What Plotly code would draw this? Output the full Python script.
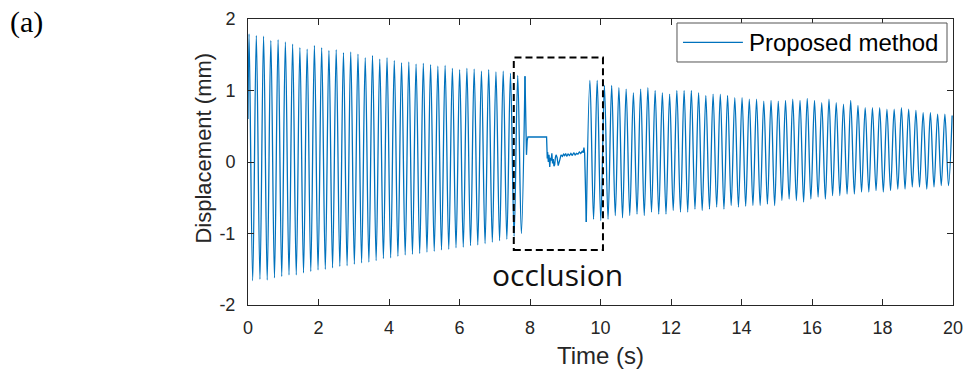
import plotly.graph_objects as go

# ---------------- data ----------------
# before occlusion: peaks and troughs of the oscillation
pre_peak_t = [0.03, 0.236, 0.442, 0.648, 0.854, 1.06, 1.266, 1.472, 1.678, 1.884,
              2.09, 2.296, 2.502, 2.708, 2.914, 3.12, 3.326, 3.532, 3.738, 3.944,
              4.15, 4.356, 4.562, 4.768, 4.974, 5.18, 5.386, 5.592, 5.798, 6.004,
              6.21, 6.416, 6.622, 6.828, 7.034, 7.24, 7.446, 7.652, 7.858]
pre_peak_v = [1.79, 1.77, 1.76, 1.70, 1.71, 1.68, 1.65, 1.60, 1.58, 1.63,
              1.60, 1.56, 1.57, 1.53, 1.54, 1.51, 1.46, 1.49, 1.44, 1.46,
              1.42, 1.39, 1.40, 1.37, 1.38, 1.36, 1.34, 1.35, 1.31, 1.29,
              1.31, 1.30, 1.27, 1.29, 1.26, 1.27, 1.24, 1.21, 1.20]
pre_trough_t = [0.133, 0.339, 0.545, 0.751, 0.957, 1.163, 1.369, 1.575, 1.781, 1.987,
                2.193, 2.399, 2.605, 2.811, 3.017, 3.223, 3.429, 3.635, 3.841, 4.047,
                4.253, 4.459, 4.665, 4.871, 5.077, 5.283, 5.489, 5.695, 5.901, 6.107,
                6.313, 6.519, 6.725, 6.931, 7.137, 7.343, 7.549, 7.755]
pre_trough_v = [-1.66, -1.64, -1.65, -1.62, -1.60, -1.58, -1.58, -1.55, -1.53, -1.51,
                -1.50, -1.48, -1.46, -1.45, -1.43, -1.41, -1.40, -1.38, -1.35, -1.34,
                -1.32, -1.30, -1.29, -1.28, -1.26, -1.25, -1.23, -1.22, -1.20, -1.19,
                -1.17, -1.16, -1.14, -1.12, -1.10, -1.08, -1.04, -1.00]
start_t = [0.0]
start_v = [0.6]

# during occlusion
occ_t = [7.858, 7.90, 7.92, 7.94, 8.47, 8.49, 8.50, 8.52, 8.54, 8.56, 8.58, 8.60,
         8.62, 8.64, 8.66, 8.68, 8.70, 8.72, 8.74, 8.77, 8.80, 8.84, 8.88, 8.92,
         8.95, 8.98, 9.01, 9.04, 9.08, 9.12, 9.16, 9.20, 9.24, 9.28, 9.32, 9.36,
         9.40, 9.44, 9.48, 9.51, 9.53, 9.55, 9.597]
occ_v = [1.20, 0.10, 0.30, 0.35, 0.35, 0.05, 0.14, 0.00, 0.10, -0.07, 0.06, 0.02,
         0.12, -0.02, 0.04, -0.06, -0.04, 0.06, 0.10, 0.06, -0.05, 0.02, 0.10, 0.08,
         0.11, 0.09, 0.12, 0.08, 0.11, 0.09, 0.12, 0.09, 0.13, 0.10, 0.12, 0.11,
         0.14, 0.12, 0.15, 0.13, 0.20, 0.12, -0.84]

# after occlusion
post_peak_t = [9.700, 9.906, 10.111, 10.317, 10.522, 10.728, 10.933, 11.139, 11.344, 11.550,
               11.755, 11.961, 12.166, 12.372, 12.577, 12.783, 12.988, 13.194, 13.399, 13.605,
               13.810, 14.016, 14.221, 14.427, 14.632, 14.838, 15.043, 15.249, 15.454, 15.660,
               15.865, 16.071, 16.276, 16.482, 16.687, 16.893, 17.098, 17.304, 17.509, 17.715,
               17.920, 18.126, 18.331, 18.537, 18.742, 18.948, 19.153, 19.359, 19.564, 19.770,
               19.975]
post_peak_v = [1.14, 1.14, 1.07, 1.07, 1.04, 1.02, 0.97, 1.02, 1.04, 1.00,
               0.97, 0.95, 1.00, 1.00, 1.00, 0.97, 0.93, 0.95, 0.95, 0.93,
               0.90, 0.90, 0.88, 0.88, 0.85, 0.86, 0.85, 0.86, 0.88, 0.86,
               0.89, 0.86, 0.83, 0.88, 0.83, 0.81, 0.86, 0.79, 0.76, 0.76,
               0.76, 0.74, 0.74, 0.76, 0.74, 0.72, 0.69, 0.69, 0.67, 0.67,
               0.65]
post_trough_t = [9.803, 10.008, 10.214, 10.419, 10.625, 10.830, 11.036, 11.241, 11.447,
                 11.652, 11.858, 12.063, 12.269, 12.474, 12.680, 12.885, 13.091, 13.296, 13.502,
                 13.707, 13.913, 14.118, 14.324, 14.529, 14.735, 14.940, 15.146, 15.351, 15.557,
                 15.762, 15.968, 16.173, 16.379, 16.584, 16.790, 16.995, 17.201, 17.406, 17.612,
                 17.817, 18.023, 18.228, 18.434, 18.639, 18.845, 19.050, 19.256, 19.461, 19.667,
                 19.872]
post_trough_v = [-0.80, -0.82, -0.80, -0.75, -0.78, -0.75, -0.73, -0.75,
                 -0.70, -0.73, -0.73, -0.68, -0.70, -0.70, -0.66, -0.68, -0.66, -0.63, -0.66,
                 -0.61, -0.63, -0.62, -0.61, -0.61, -0.59, -0.61, -0.54, -0.52, -0.54,
                 -0.56, -0.52, -0.49, -0.52, -0.47, -0.47, -0.45, -0.45, -0.42, -0.42,
                 -0.40, -0.42, -0.40, -0.38, -0.38, -0.35, -0.35, -0.38, -0.35, -0.33,
                 -0.33]

x_ticks = [0, 2, 4, 6, 8, 10, 12, 14, 16, 18, 20]
x_tick_text = ["0", "2", "4", "6", "8", "10", "12", "14", "16", "18", "20"]
y_ticks = [-2, -1, 0, 1, 2]
y_tick_text = ["-2", "-1", "0", "1", "2"]

occlusion_box = dict(t0=7.54, t1=10.07, v0=-1.23, v1=1.46)

# ---------------- build series ----------------
def merge(ts, vs):
    pts = sorted(zip(ts, vs))
    return [p[0] for p in pts], [p[1] for p in pts]

pre_t, pre_v = merge(start_t + pre_peak_t + pre_trough_t, start_v + pre_peak_v + pre_trough_v)
post_t, post_v = merge([occ_t[-1]] + post_peak_t + post_trough_t,
                       [occ_v[-1]] + post_peak_v + post_trough_v)

BLUE = "#0072BD"
AX = "#262626"
LW = 1.3

fig = go.Figure()
fig.add_trace(go.Scatter(x=pre_t, y=pre_v, mode="lines", name="Proposed method",
                         line=dict(color=BLUE, width=LW, shape="spline", smoothing=1.0, simplify=False),
                         showlegend=False))
fig.add_trace(go.Scatter(x=occ_t, y=occ_v, mode="lines", name="Proposed method",
                         line=dict(color=BLUE, width=LW, simplify=False), showlegend=False))
fig.add_trace(go.Scatter(x=post_t, y=post_v, mode="lines", name="Proposed method",
                         line=dict(color=BLUE, width=LW, shape="spline", smoothing=1.0, simplify=False),
                         showlegend=False))

# occlusion box
fig.add_shape(type="rect", xref="x", yref="y",
              x0=occlusion_box["t0"], x1=occlusion_box["t1"],
              y0=occlusion_box["v0"], y1=occlusion_box["v1"],
              line=dict(color="black", width=2, dash="7px,4px"))
fig.add_annotation(x=8.77, y=-1.58, xref="x", yref="y", text="occlusion", showarrow=False,
                   font=dict(family="Open Sans", size=30, color="#111111"))

# custom legend (MATLAB style)
fig.add_shape(type="rect", xref="paper", yref="paper", x0=0.6085, x1=0.9915, y0=0.8497, y1=0.986,
              line=dict(color="#555555", width=1), fillcolor="white", layer="above")
fig.add_shape(type="line", xref="paper", yref="paper", x0=0.617, x1=0.702, y0=0.918, y1=0.918,
              line=dict(color=BLUE, width=1.2), layer="above")
fig.add_annotation(x=0.7078, y=0.918, xref="paper", yref="paper", text="Proposed method",
                   xanchor="left", yanchor="middle", showarrow=False,
                   font=dict(family="Arial", size=24, color="black"))

# axis titles
fig.add_annotation(x=0.4993, y=-0.178, xref="paper", yref="paper", text="Time (s)",
                   showarrow=False, xanchor="center", yanchor="middle",
                   font=dict(family="Arial", size=24, color=AX))
fig.add_annotation(x=-0.0624, y=0.547, xref="paper", yref="paper", text="Displacement (mm)",
                   showarrow=False, xanchor="center", yanchor="middle", textangle=-90,
                   font=dict(family="Arial", size=22, color=AX))

# panel label
fig.add_annotation(x=-0.340, y=1.055, xref="paper", yref="paper", text="(a)", showarrow=False,
                   xanchor="left", yanchor="top",
                   font=dict(family="Liberation Serif", size=30, color="black"))

fig.update_layout(
    width=967, height=372,
    margin=dict(l=248, r=14, t=19, b=67, autoexpand=False),
    plot_bgcolor="white", paper_bgcolor="white",
    showlegend=False,
    font=dict(family="Arial", color=AX),
)
fig.update_xaxes(range=[0, 20], tickvals=x_ticks, ticktext=x_tick_text, automargin=False,
                 showline=True, linecolor=AX, linewidth=1, mirror="ticks",
                 ticks="inside", ticklen=6, tickcolor=AX, showgrid=False, zeroline=False,
                 tickfont=dict(size=18, color=AX), ticklabelstandoff=6)
fig.update_yaxes(range=[-2, 2], tickvals=y_ticks, ticktext=y_tick_text, automargin=False,
                 showline=True, linecolor=AX, linewidth=1, mirror="ticks",
                 ticks="inside", ticklen=6, tickcolor=AX, showgrid=False, zeroline=False,
                 tickfont=dict(size=18, color=AX), ticklabelstandoff=8)

fig.write_html("out.html", config={"displayModeBar": False},
               post_script="document.body.style.margin='0';document.body.style.overflow='hidden';")
